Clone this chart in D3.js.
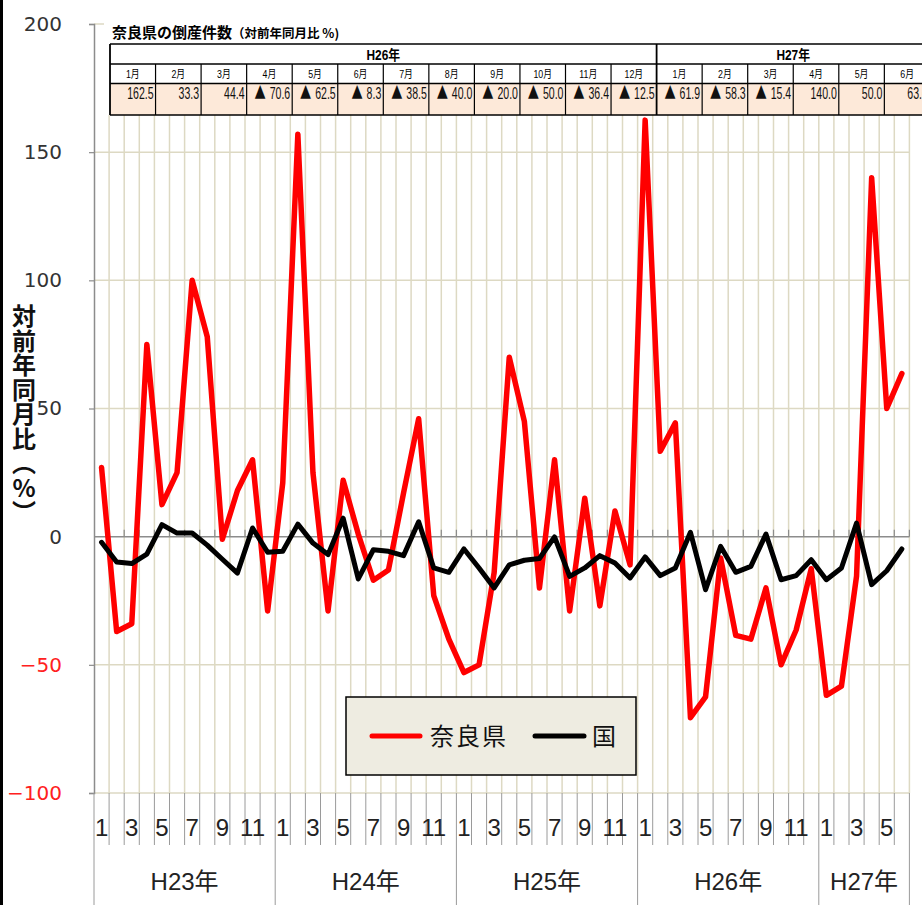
<!DOCTYPE html>
<html><head><meta charset="utf-8">
<script src="https://cdn.jsdelivr.net/npm/d3@7"></script>
<style>
html,body{margin:0;padding:0;background:#fff;}
svg{display:block;}
</style></head>
<body>
<svg id="chart" width="922" height="905"></svg>
<script>
// ---- data ----
const years = ["H23年", "H24年", "H25年", "H26年", "H27年"];
const monthsPerYear = [12, 12, 12, 12, 6];
const nara = [
  27, -37, -34, 75, 12.5, 25, 100, 78, -1, 18, 30, -29,
  21, 157, 25, -29, 22, 1, -17, -13, 17, 46, -23, -40,
  -53, -50, -14, 70, 45, -20, 30, -29, 15, -27, 10, -11,
  162.5, 33.3, 44.4, -70.6, -62.5, -8.3, -38.5, -40.0, -20.0, -50.0, -36.4, -12.5,
  -61.9, -58.3, -15.4, 140.0, 50.0, 63.6
];
const kuni = [
  -2.2, -9.9, -10.5, -6.8, 4.7, 1.4, 1.4, -3.3, -8.8, -14.2, 3.4, -6.1,
  -5.7, 4.9, -2.5, -7.0, 7.2, -16.5, -5.1, -5.7, -7.4, 5.8, -12.2, -13.9,
  -4.8, -12.2, -20.0, -11.0, -9.2, -8.5, -0.1, -15.5, -12.2, -7.4, -10.3, -16.1,
  -7.9, -15.2, -12.2, 1.7, -20.7, -3.8, -13.9, -11.6, 1.0, -16.8, -15.2, -9.0,
  -16.8, -12.2, 5.3, -18.7, -13.3, -4.8
];
const yTicks = [-100, -50, 0, 50, 100, 150, 200];
const seriesNames = ["奈良県", "国"];
const tableTitle = "奈良県の倒産件数";
const tableSub = "（対前年同月比 %)";
const tableYears = ["H26年", "H27年"];
const tableYearCols = [12, 6];
const tableStart = 36; // table shows H26年1月 onwards
const yTitle = "対前年同月比（%）";

// categories
const cats = [];
years.forEach((yr, yi) => { for (let m = 1; m <= monthsPerYear[yi]; m++) cats.push({year: yr, yi, m}); });

const svg = d3.select("#chart");
const W = 922, H = 905;

const x = d3.scaleBand().domain(d3.range(cats.length)).range([94, 909.4]).padding(0);
const y = d3.scaleLinear().domain([-100, 200]).range([793, 24]);
const bw = x.bandwidth();
const cx = i => x(i) + bw / 2;

// outer left border
svg.append("line").attr("x1", 1.5).attr("x2", 1.5).attr("y1", 0).attr("y2", H)
  .attr("stroke", "#000").attr("stroke-width", 3);

const grid = "#ddd9c3";
const axisGray = "#8c8c8c";

// vertical gridlines (category boundaries)
svg.append("g").selectAll("line").data(d3.range(1, cats.length + 1)).join("line")
  .attr("x1", i => x(0) + i * bw).attr("x2", i => x(0) + i * bw)
  .attr("y1", y(200)).attr("y2", y(-100))
  .attr("stroke", grid).attr("stroke-width", 1.5);

// horizontal gridlines
svg.append("g").selectAll("line").data(yTicks.filter(v => v !== 0)).join("line")
  .attr("x1", x(0)).attr("x2", x(0) + cats.length * bw)
  .attr("y1", d => y(d)).attr("y2", d => y(d))
  .attr("stroke", grid).attr("stroke-width", 1.5);

// zero line with ticks
svg.append("line").attr("x1", x(0)).attr("x2", x(0) + cats.length * bw)
  .attr("y1", y(0)).attr("y2", y(0)).attr("stroke", axisGray).attr("stroke-width", 1.5);
svg.append("g").selectAll("line").data(d3.range(1, cats.length + 1)).join("line")
  .attr("x1", i => x(0) + i * bw).attr("x2", i => x(0) + i * bw)
  .attr("y1", y(0) - 7).attr("y2", y(0))
  .attr("stroke", axisGray).attr("stroke-width", 1.2);

// y axis
const yAxis = svg.append("g").attr("transform", `translate(${x(0)},0)`)
  .call(d3.axisLeft(y).tickValues(yTicks).tickSize(5).tickPadding(27).tickFormat(d3.format("d")));
yAxis.select(".domain").attr("stroke", axisGray).attr("stroke-width", 1.5);
yAxis.selectAll(".tick line").attr("stroke", axisGray).attr("stroke-width", 1.2);
yAxis.selectAll(".tick text")
  .attr("font-family", "DejaVu Sans").attr("font-size", 20)
  .attr("fill", d => d < 0 ? "#ff2020" : "#333");
yAxis.selectAll(".tick").filter(d => d === 0).select("line").remove();

// y title (vertical)
svg.append("text").attr("x", 24).attr("y", 304)
  .attr("font-family", "Noto Sans CJK JP").attr("font-weight", "bold").attr("font-size", 24)
  .attr("fill", "#111")
  .style("writing-mode", "vertical-rl").style("text-orientation", "upright")
  .attr("letter-spacing", 0.5)
  .text(yTitle);

// bottom category lines
svg.append("g").selectAll("line").data(d3.range(0, cats.length + 1)).join("line")
  .attr("x1", i => x(0) + i * bw).attr("x2", i => x(0) + i * bw)
  .attr("y1", y(-100))
  .attr("y2", i => (i === cats.length || i === 0 || (i < cats.length && cats[i].m === 1)) ? H : 845)
  .attr("stroke", "#9a9a9a").attr("stroke-width", 1);

// month labels via band axis
const xAxis = svg.append("g").attr("transform", `translate(0,${y(-100)})`)
  .call(d3.axisBottom(x).tickSize(0).tickPadding(0)
    .tickFormat(i => cats[i].m % 2 === 1 ? String(cats[i].m) : ""));
xAxis.select(".domain").remove();
xAxis.selectAll(".tick text").attr("y", 43).attr("dy", 0)
  .attr("font-family", "Liberation Sans").attr("font-size", 24).attr("fill", "#222");

// year labels
let start = 0;
const yearPos = years.map((yr, yi) => { const s = start; start += monthsPerYear[yi]; return {yr, s, n: monthsPerYear[yi]}; });
svg.append("g").selectAll("text").data(yearPos).join("text")
  .attr("x", d => x(d.s) + d.n * bw / 2).attr("y", 890)
  .attr("text-anchor", "middle")
  .attr("font-family", "Liberation Sans, Noto Sans CJK JP").attr("font-size", 24).attr("fill", "#222")
  .text(d => d.yr);

// lines
const line = d3.line().x((d, i) => cx(i)).y(d => y(d)).curve(d3.curveLinear);
svg.append("path").datum(nara).attr("d", line).attr("fill", "none")
  .attr("stroke", "#ff0000").attr("stroke-width", 5.5).attr("stroke-linejoin", "round").attr("stroke-linecap", "round");
svg.append("path").datum(kuni).attr("d", line).attr("fill", "none")
  .attr("stroke", "#000").attr("stroke-width", 5).attr("stroke-linejoin", "round").attr("stroke-linecap", "round");

// ---- table overlay ----
const tColW = 45.55;
const nCols = d3.sum(tableYearCols);
const tx = d3.scaleBand().domain(d3.range(nCols)).range([110, 110 + nCols * tColW]);
const rows = {top: 44, mid1: 64, mid2: 83.5, bot: 115};
const tg = svg.append("g");
tg.append("rect").attr("x", 104).attr("y", 17).attr("width", W - 104).attr("height", rows.bot - 17).attr("fill", "#fff");
tg.append("rect").attr("x", 110).attr("y", rows.mid2).attr("width", nCols * tColW).attr("height", rows.bot - rows.mid2)
  .attr("fill", "#fde9d9");
tg.append("text").attr("x", 112).attr("y", 38)
  .attr("font-family", "Noto Sans CJK JP").attr("font-weight", "bold").attr("font-size", 15).attr("fill", "#000")
  .text(tableTitle)
  .append("tspan").attr("font-size", 12.5).text(tableSub);
// horizontal lines
[rows.top, rows.mid1, rows.mid2, rows.bot].forEach(yy => {
  tg.append("line").attr("x1", 110).attr("x2", 110 + nCols * tColW).attr("y1", yy).attr("y2", yy)
    .attr("stroke", "#000").attr("stroke-width", 1.6);
});
// vertical lines
tg.selectAll(".cv").data(d3.range(0, nCols + 1)).join("line")
  .attr("x1", j => 110 + j * tColW).attr("x2", j => 110 + j * tColW)
  .attr("y1", j => (j === 0 || j === tableYearCols[0] || j === nCols) ? rows.top : rows.mid1).attr("y2", rows.bot)
  .attr("stroke", "#000").attr("stroke-width", j => (j === 0 || j === tableYearCols[0]) ? 1.8 : 1.2);
// year header
let cs = 0;
tableYears.forEach((ty, k) => {
  tg.append("text").attr("transform", `translate(${tx(cs) + tableYearCols[k] * tColW / 2},60) scale(0.85,1)`)
    .attr("text-anchor", "middle").attr("font-family", "Liberation Sans, Noto Sans CJK JP")
    .attr("font-weight", "bold").attr("font-size", 14).text(ty);
  cs += tableYearCols[k];
});
// months and values
const tCells = [];
tableYearCols.forEach(n => { for (let m = 1; m <= n; m++) tCells.push(m + "月"); });
tg.selectAll(".tm").data(tCells).join("text")
  .attr("transform", (d, j) => `translate(${tx(j) + tColW / 2},78) scale(0.8,1)`)
  .attr("text-anchor", "middle").attr("font-family", "Liberation Sans, Noto Sans CJK JP")
  .attr("font-size", 11).text(d => d);
const tVals = nara.slice(tableStart, tableStart + nCols);
const tvText = tg.selectAll(".tv").data(tVals).join("text")
  .attr("transform", (d, j) => `translate(${tx(j) + tColW - 2},98.5) scale(0.66,1)`)
  .attr("text-anchor", "end").attr("font-family", "Liberation Sans, DejaVu Sans")
  .attr("font-size", 16).attr("fill", "#111");
tvText.each(function(d) {
  const t = d3.select(this);
  if (d < 0) {
    t.append("tspan").attr("font-family", "Noto Sans CJK JP").attr("font-size", 17).text("▲");
    t.append("tspan").attr("dx", 6).text(Math.abs(d).toFixed(1));
  } else {
    t.text(d.toFixed(1));
  }
});

// ---- legend ----
const lg = svg.append("g");
lg.append("rect").attr("x", 346).attr("y", 697).attr("width", 290).attr("height", 78)
  .attr("fill", "#eeece1").attr("stroke", "#000").attr("stroke-width", 1.5);
const legendItems = [
  {name: seriesNames[0], color: "#ff0000", x1: 372, x2: 420, tx: 430},
  {name: seriesNames[1], color: "#000", x1: 535, x2: 584, tx: 592}
];
legendItems.forEach(it => {
  lg.append("line").attr("x1", it.x1).attr("x2", it.x2).attr("y1", 736).attr("y2", 736)
    .attr("stroke", it.color).attr("stroke-width", 5).attr("stroke-linecap", "round");
  lg.append("text").attr("x", it.tx).attr("y", 745)
    .attr("font-family", "Noto Sans CJK JP").attr("font-size", 24).attr("fill", "#111")
    .attr("letter-spacing", 2).text(it.name);
});
</script>
</body></html>
